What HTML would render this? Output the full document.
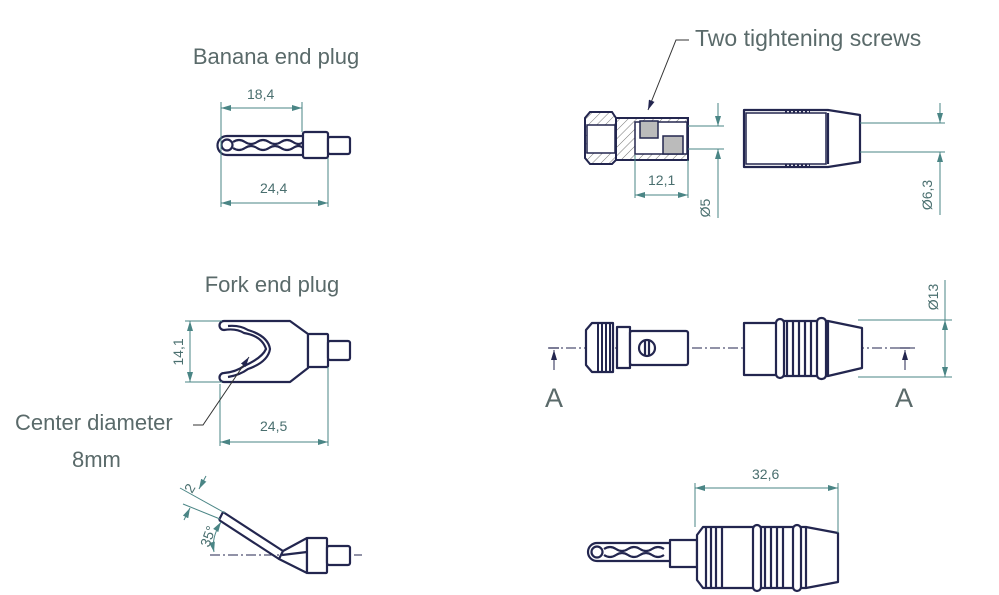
<!DOCTYPE html>
<html><head><meta charset="utf-8"><style>
html,body{margin:0;padding:0;background:#fff;}
svg{display:block;}
.o{fill:none;stroke:#23264f;stroke-width:2.2;stroke-linejoin:round}
.of{fill:#fff;stroke:#23264f;stroke-width:2.2;stroke-linejoin:round}
.d{fill:none;stroke:#4a8585;stroke-width:1}
.c{fill:none;stroke:#23264f;stroke-width:1;stroke-dasharray:10,3,2,3}
.t{font-family:"Liberation Sans",sans-serif;fill:#5a6a6a;font-weight:300}
.dt{font-family:"Liberation Sans",sans-serif;fill:#4a6f6f;font-size:14px}
</style></head><body>
<svg width="999" height="595" viewBox="0 0 999 595" xmlns="http://www.w3.org/2000/svg">
<defs>
<marker id="ar" viewBox="0 0 10 6" refX="10" refY="3" markerWidth="10" markerHeight="6" orient="auto-start-reverse" markerUnits="userSpaceOnUse"><path d="M0,0 L10,3 L0,6 z" fill="#4a8585"/></marker>
<marker id="ak" viewBox="0 0 10 6" refX="10" refY="3" markerWidth="10" markerHeight="6" orient="auto" markerUnits="userSpaceOnUse"><path d="M0,0 L10,3 L0,6 z" fill="#23264f"/></marker>
<pattern id="h" width="6" height="6" patternUnits="userSpaceOnUse" patternTransform="rotate(45)"><line x1="0" y1="0" x2="0" y2="6" stroke="#777" stroke-width="1"/></pattern>
</defs>

<!-- Titles -->
<text class="t" x="276" y="64" font-size="22" text-anchor="middle">Banana end plug</text>
<text class="t" x="272" y="292" font-size="22" text-anchor="middle">Fork end plug</text>
<text class="t" x="695" y="46" font-size="23">Two tightening screws</text>
<text class="t" x="15" y="430" font-size="22">Center diameter</text>
<text class="t" x="72" y="467" font-size="22">8mm</text>
<text class="t" x="545" y="407" font-size="27">A</text>
<text class="t" x="895" y="407" font-size="27">A</text>

<!-- Banana plug top-left -->
<path class="o" d="M303,136 L227,136 A9,9 0 0 0 227,155 L303,155"/>
<circle class="o" cx="227" cy="145" r="5.5"/>
<path class="o" stroke-width="1.3" d="M233,142 q6,-4 12,0 t12,0 t12,0 t12,0 t12,0 t10,0 M233,148 q6,4 12,0 t12,0 t12,0 t12,0 t12,0 t10,0"/>
<rect class="of" x="303" y="132" width="25" height="26" rx="2"/>
<rect class="of" x="328" y="137" width="22" height="17" rx="2"/>
<line class="d" x1="221" y1="102" x2="221" y2="207"/>
<line class="d" x1="302" y1="102" x2="302" y2="132"/>
<line class="d" x1="328" y1="158" x2="328" y2="207"/>
<line class="d" x1="221" y1="108" x2="302" y2="108" marker-start="url(#ar)" marker-end="url(#ar)"/>
<line class="d" x1="221" y1="203" x2="328" y2="203" marker-start="url(#ar)" marker-end="url(#ar)"/>
<text class="dt" x="247" y="99">18,4</text>
<text class="dt" x="260" y="193">24,4</text>

<!-- Fork plug -->
<path class="of" d="M224,321 L290,321 L308,334 L308,368 L290,382 L224,382 A4,4 0 0 1 224,373 Q236,372 244,366 Q262,358 266,349 Q262,336 244,333 Q236,328 224,330 A4,4 0 0 1 224,321 Z"/>
<path class="o" stroke-width="1.2" d="M228,326 Q240,325 248,330 Q268,336 270,349 Q268,362 248,369 Q240,375 228,377"/>
<rect class="of" x="308" y="334" width="20" height="33" rx="1"/>
<rect class="of" x="328" y="341" width="22" height="19" rx="2"/>
<line class="d" x1="185" y1="321" x2="222" y2="321"/>
<line class="d" x1="185" y1="382" x2="222" y2="382"/>
<line class="d" x1="190" y1="321" x2="190" y2="382" marker-start="url(#ar)" marker-end="url(#ar)"/>
<text class="dt" transform="translate(183,352) rotate(-90)" text-anchor="middle">14,1</text>
<line class="d" x1="220" y1="384" x2="220" y2="446"/>
<line class="d" x1="328" y1="367" x2="328" y2="446"/>
<line class="d" x1="220" y1="442" x2="328" y2="442" marker-start="url(#ar)" marker-end="url(#ar)"/>
<text class="dt" x="260" y="431">24,5</text>
<polyline fill="none" stroke="#333" stroke-width="1" points="193,425 203,425 249,357" marker-end="url(#ak)"/>

<!-- Angled fork bottom-left -->
<line class="c" x1="210" y1="555" x2="362" y2="555"/>
<path class="o" d="M223,512 L283,551 M219,520 L279,559"/>
<line class="o" x1="223" y1="512" x2="219" y2="520"/>
<path class="of" d="M283,551 L307,538 L307,573 L279,559 Z"/>
<line class="o" stroke-width="1.2" x1="282" y1="555" x2="307" y2="552"/>
<rect class="of" x="307" y="538" width="20" height="35" rx="1"/>
<rect class="of" x="327" y="546" width="23" height="19" rx="2"/>
<line class="d" x1="180" y1="488" x2="225" y2="513"/>
<line class="d" x1="183" y1="504" x2="220" y2="519"/>
<line class="d" x1="206" y1="476" x2="199" y2="489" marker-end="url(#ar)"/>
<line class="d" x1="184" y1="520" x2="190" y2="508" marker-end="url(#ar)"/>
<text class="dt" transform="translate(192,494) rotate(-60)">2</text>
<path class="d" d="M221,522 Q211,538 214,552" marker-start="url(#ar)" marker-end="url(#ar)"/>
<text class="dt" transform="translate(209,548) rotate(-70)">35°</text>

<!-- Top-right section view -->
<polyline fill="none" stroke="#333" stroke-width="1" points="689,40 676,40 648,110" marker-end="url(#ak)"/>
<path d="M590,112 L612,112 L616,118 L616,160 L612,164 L590,164 L585,158 L585,118 Z" fill="url(#h)" stroke="#23264f" stroke-width="2"/>
<path d="M616,118 L688,118 L688,160 L616,160 Z" fill="url(#h)" stroke="#23264f" stroke-width="2"/>
<rect x="587" y="125" width="28" height="28" fill="#fff" stroke="#23264f" stroke-width="1.5"/>
<rect x="635" y="122" width="52" height="32" fill="#fff" stroke="#23264f" stroke-width="1.5"/>
<rect x="640" y="121" width="18" height="17" fill="#bbb" stroke="#23264f" stroke-width="1.5"/>
<rect x="663" y="136" width="20" height="18" fill="#bbb" stroke="#23264f" stroke-width="1.5"/>
<line class="d" x1="688" y1="126" x2="724" y2="126"/>
<line class="d" x1="688" y1="149" x2="724" y2="149"/>
<line class="d" x1="718" y1="103" x2="718" y2="126" marker-end="url(#ar)"/>
<line class="d" x1="718" y1="218" x2="718" y2="149" marker-end="url(#ar)"/>
<text class="dt" transform="translate(710,208) rotate(-90)" text-anchor="middle">Ø5</text>
<line class="d" x1="635" y1="155" x2="635" y2="198"/>
<line class="d" x1="688" y1="160" x2="688" y2="198"/>
<line class="d" x1="635" y1="195" x2="688" y2="195" marker-start="url(#ar)" marker-end="url(#ar)"/>
<text class="dt" x="648" y="185">12,1</text>

<path class="of" d="M744,110 L828,110 L860,115 L860,162 L828,167 L744,167 Z"/>
<rect x="746" y="113" width="80" height="51" fill="#fff" stroke="#23264f" stroke-width="1.5"/>
<line class="o" stroke-width="1.5" x1="828" y1="113" x2="828" y2="164"/>
<line stroke="#23264f" stroke-width="3" stroke-dasharray="2,2" x1="785" y1="112" x2="810" y2="112"/>
<line stroke="#23264f" stroke-width="3" stroke-dasharray="2,2" x1="785" y1="165" x2="810" y2="165"/>
<line class="d" x1="860" y1="123" x2="945" y2="123"/>
<line class="d" x1="860" y1="152" x2="945" y2="152"/>
<line class="d" x1="940" y1="103" x2="940" y2="123" marker-end="url(#ar)"/>
<line class="d" x1="940" y1="215" x2="940" y2="152" marker-end="url(#ar)"/>
<text class="dt" transform="translate(932,195) rotate(-90)" text-anchor="middle">Ø6,3</text>

<!-- Middle-right -->
<line class="c" x1="548" y1="348" x2="915" y2="348"/>
<line stroke="#23264f" stroke-width="1.2" x1="549" y1="348" x2="559" y2="348"/>
<line stroke="#23264f" stroke-width="1" x1="554" y1="370" x2="554" y2="350" marker-end="url(#ak)"/>
<line stroke="#23264f" stroke-width="1.2" x1="900" y1="348" x2="910" y2="348"/>
<line stroke="#23264f" stroke-width="1" x1="905" y1="370" x2="905" y2="350" marker-end="url(#ak)"/>
<path class="of" d="M592,323 L613,323 L613,372 L592,372 L586,365 L586,330 Z"/>
<path stroke="#23264f" stroke-width="2" d="M598,324 V371 M602,324 V371 M606,324 V371 M610,324 V371"/>
<rect class="of" x="617" y="327" width="13" height="41"/>
<rect class="of" x="630" y="331" width="58" height="34" rx="2"/>
<circle class="o" cx="647" cy="348" r="8"/>
<line class="o" stroke-width="1.5" x1="645" y1="341" x2="645" y2="355"/>
<line class="o" stroke-width="1.5" x1="649" y1="341" x2="649" y2="355"/>
<path class="of" d="M744,323 L780,323 L780,375 L744,375 Z"/>
<path class="of" d="M780,321 L828,321 L862,328 L862,368 L828,376 L780,376 Z"/>
<path class="o" stroke-width="1.8" d="M787,322 V375 M793,322 V375 M799,322 V375 M805,322 V375 M811,322 V375 M828,321 V376"/>
<rect class="of" x="776" y="319" width="8" height="59" rx="4"/>
<rect class="of" x="817" y="318" width="9" height="61" rx="4"/>
<line class="d" x1="858" y1="320" x2="952" y2="320"/>
<line class="d" x1="858" y1="377" x2="952" y2="377"/>
<line class="d" x1="945" y1="280" x2="945" y2="320"/>
<line class="d" x1="945" y1="320" x2="945" y2="377" marker-start="url(#ar)" marker-end="url(#ar)"/>
<text class="dt" transform="translate(938,297) rotate(-90)" text-anchor="middle">Ø13</text>

<!-- Bottom-right assembly -->
<path class="o" d="M670,543 L597,543 A9,9 0 0 0 597,561 L670,561"/>
<circle class="o" cx="597" cy="552" r="5.5"/>
<path class="o" stroke-width="1.3" d="M604,549 q6,-4 12,0 t12,0 t12,0 t12,0 t12,0 M604,555 q6,4 12,0 t12,0 t12,0 t12,0 t12,0"/>
<rect class="of" x="670" y="540" width="27" height="27"/>
<path class="of" d="M703,527 L806,527 L838,533 L838,582 L806,588 L703,588 L697,580 L697,535 Z"/>
<path class="o" stroke-width="2" d="M706,528 V587 M711,528 V587 M716,528 V587 M722,528 V587 M760,528 V587 M765,528 V587 M771,528 V587 M777,528 V587 M783,528 V587 M806,527 V588"/>
<rect class="of" x="753" y="525" width="8" height="66" rx="4"/>
<rect class="of" x="793" y="525" width="8" height="66" rx="4"/>
<line class="d" x1="695" y1="483" x2="695" y2="527"/>
<line class="d" x1="838" y1="483" x2="838" y2="533"/>
<line class="d" x1="695" y1="488" x2="838" y2="488" marker-start="url(#ar)" marker-end="url(#ar)"/>
<text class="dt" x="752" y="479">32,6</text>
</svg>
</body></html>
